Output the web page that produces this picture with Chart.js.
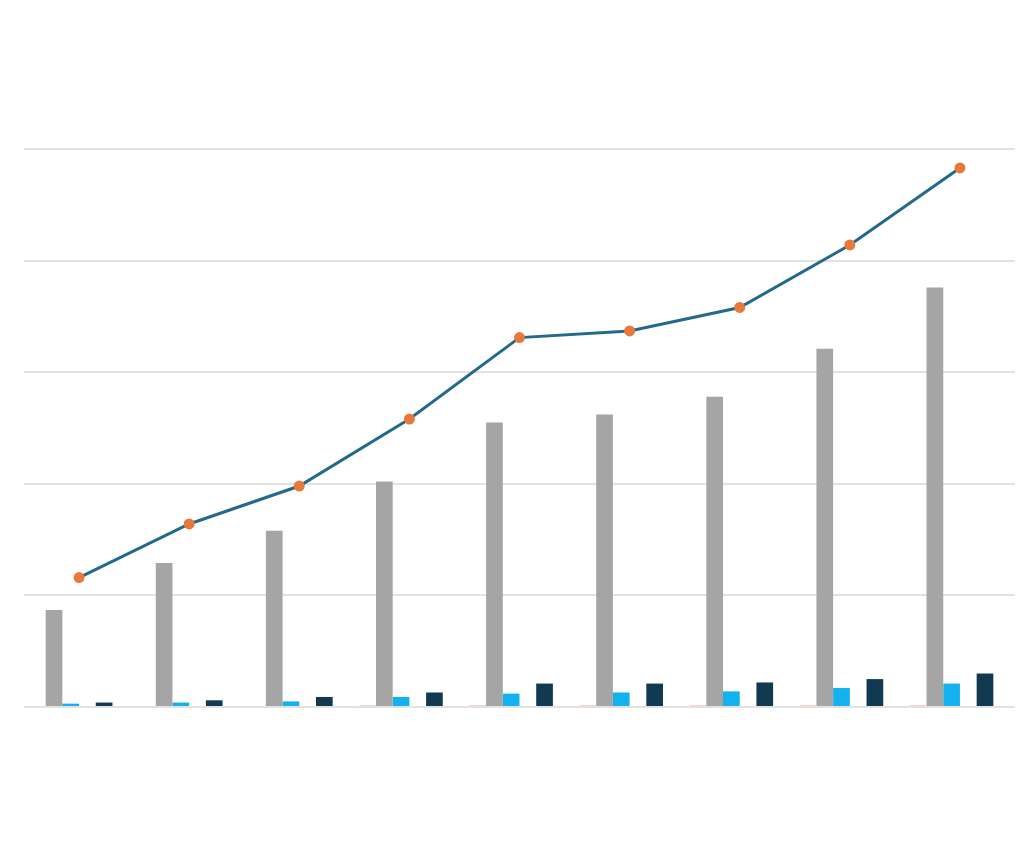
<!DOCTYPE html>
<html>
<head>
<meta charset="utf-8">
<script src="https://cdn.jsdelivr.net/npm/chart.js@4/dist/chart.umd.min.js"></script>
<style>
html,body{margin:0;padding:0;background:#fff;}
#wrap{width:1024px;height:856px;}
</style>
</head>
<body>
<div id="wrap"><canvas id="c" width="1024" height="856"></canvas></div>
<script>
const categories = ['1','2','3','4','5','6','7','8','9'];
const orangeValues = [0, 0, 0, 1.4, 1.4, 1.4, 1.4, 1.4, 1.4];
const grayValues = [87, 129, 158, 202, 255, 262, 278, 321, 376];
const blueValues = [3, 4, 5, 9, 12, 13, 14, 17, 21];
const emptyValues = [0, 0, 0, 0, 0, 0, 0, 0, 0];
const navyValues = [4, 6, 9, 13, 21, 21, 22, 25, 30];
const lineValues = [116, 164, 198, 258, 331, 337, 358, 414, 483];
const yTicks = [0, 100, 200, 300, 400, 500];

const barCommon = {type:'bar', barPercentage:1.0, categoryPercentage:0.91, borderWidth:0, order:2};
new Chart(document.getElementById('c'), {
  data: {
    labels: categories,
    datasets: [
      {type:'line', data: lineValues, borderColor:'#22698b', borderWidth:3, pointRadius:5.5, pointHoverRadius:5.5,
       pointBackgroundColor:'#e8793a', pointBorderColor:'#e8793a', pointBorderWidth:0, tension:0, fill:false, order:1},
      Object.assign({data: orangeValues, backgroundColor:'#f2b592'}, barCommon),
      Object.assign({data: grayValues, backgroundColor:'#a5a5a5'}, barCommon),
      Object.assign({data: blueValues, backgroundColor:'#13b2ee'}, barCommon),
      Object.assign({data: emptyValues, backgroundColor:'rgba(0,0,0,0)'}, barCommon),
      Object.assign({data: navyValues, backgroundColor:'#113a52'}, barCommon),
      Object.assign({data: emptyValues, backgroundColor:'rgba(0,0,0,0)'}, barCommon)
    ]
  },
  options: {
    responsive:false,
    animation:false,
    devicePixelRatio:1,
    layout:{padding:{left:24, right:9, top:149, bottom:149}},
    plugins:{legend:{display:false}, tooltip:{enabled:false}},
    scales:{
      x:{display:true, grid:{display:false, drawTicks:false}, border:{display:false}, ticks:{display:false}},
      y:{display:true, min:0, max:500, afterBuildTicks:(ax)=>{ax.ticks = yTicks.map(v=>({value:v}));},
         grid:{color:'#e2e2e2', lineWidth:2, drawTicks:false}, border:{display:false}, ticks:{display:false}}
    }
  }
});
</script>
</body>
</html>
